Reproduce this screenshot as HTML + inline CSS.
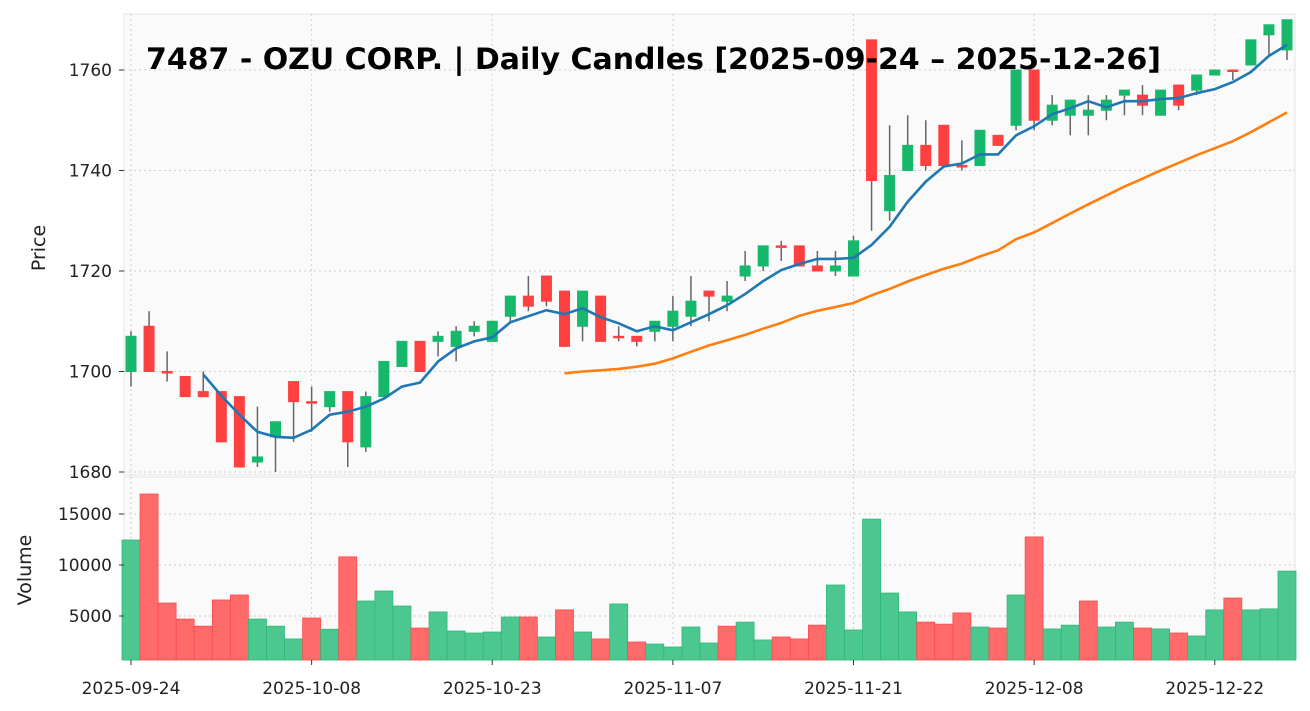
<!DOCTYPE html>
<html><head><meta charset="utf-8"><style>
body{margin:0;background:#fff;}
svg{display:block;font-family:"DejaVu Sans","Liberation Sans",sans-serif;}
</style></head><body>
<svg id="chart" width="1310" height="711" viewBox="0 0 1310 711" xmlns="http://www.w3.org/2000/svg">
<rect x="0" y="0" width="1310" height="711" fill="#fff"/>
<rect x="124" y="14" width="1171" height="461" fill="#fafafa" stroke="#e6e6e6"/>
<rect x="124" y="477" width="1171" height="183" fill="#fafafa" stroke="#e6e6e6"/>
<g id="grid"></g><g id="vol"></g><g id="candles"></g><g id="lines"></g><g id="axes"></g>
<text x="146" y="69" font-size="29" font-weight="bold" fill="#000" textLength="1015" lengthAdjust="spacingAndGlyphs">7487 - OZU CORP. | Daily Candles [2025-09-24 – 2025-12-26]</text>
<text transform="translate(45,248) rotate(-90)" text-anchor="middle" font-size="19" fill="#222">Price</text>
<text transform="translate(31,570) rotate(-90)" text-anchor="middle" font-size="19" fill="#222">Volume</text>
</svg>
<script>
const opens=[1700,1709,1700,1699,1696,1696,1695,1682,1687,1698,1694,1693,1696,1685,1695,1701,1706,1706,1705,1708,1706,1711,1715,1719,1716,1709,1715,1707,1707,1708,1709,1711,1716,1714,1719,1721,1725,1725,1721,1720,1719,1766,1732,1740,1745,1749,1741,1741,1747,1749,1760,1750,1751,1751,1752,1755,1755,1751,1757,1756,1759,1760,1761,1767,1764];
const closes=[1707,1700,1700,1695,1695,1686,1681,1683,1690,1694,1694,1696,1686,1695,1702,1706,1700,1707,1708,1709,1710,1715,1713,1714,1705,1716,1706,1707,1706,1710,1712,1714,1715,1715,1721,1725,1725,1721,1720,1721,1726,1738,1739,1745,1741,1741,1741,1748,1745,1760,1750,1753,1754,1752,1754,1756,1753,1756,1753,1759,1760,1760,1766,1769,1770];
const highs=[1708,1712,1704,1699,1700,1696,1695,1693,1690,1698,1697,1696,1696,1696,1702,1706,1706,1708,1709,1710,1710,1715,1719,1719,1716,1716,1715,1709,1707,1710,1715,1719,1716,1718,1724,1725,1726,1725,1724,1724,1727,1766,1749,1751,1750,1749,1746,1748,1747,1760,1760,1755,1754,1755,1755,1756,1757,1756,1757,1759,1760,1760,1766,1769,1770];
const lows=[1697,1700,1698,1695,1695,1686,1681,1681,1680,1686,1688,1692,1681,1684,1695,1701,1700,1703,1702,1707,1706,1710,1712,1713,1705,1706,1706,1706,1705,1706,1706,1709,1710,1712,1718,1720,1722,1721,1720,1719,1719,1728,1730,1740,1740,1741,1740,1741,1745,1748,1748,1749,1747,1747,1750,1751,1751,1751,1752,1755,1759,1758,1761,1763,1762];
const volumes=[12450,16960,6270,4700,4000,6570,7060,4700,4000,2750,4800,3700,10800,6470,7450,5980,3820,5400,3530,3330,3430,4900,4900,2940,5600,3430,2750,6180,2450,2250,1960,3920,2350,4000,4400,2650,2940,2750,4100,8040,3630,14500,7250,5400,4400,4200,5300,3920,3820,7060,12750,3730,4100,6470,3920,4400,3820,3730,3330,3040,5600,6760,5600,5700,9400];
const dateLabels=["2025-09-24","2025-10-08","2025-10-23","2025-11-07","2025-11-21","2025-12-08","2025-12-22"];
const dateIdx=[0,10,20,30,40,50,60];
const priceTicks=[1680,1700,1720,1740,1760];
const volTicks=[5000,10000,15000];

const NS="http://www.w3.org/2000/svg";
const n=closes.length;
const step=(1287-131)/64;
const X=i=>131+i*step;
const Y=p=>70+(1760-p)*5.025;
const VY=v=>667-v*102/10000;
function mk(parent,tag,attrs){const e=document.createElementNS(NS,tag);for(const k in attrs)e.setAttribute(k,attrs[k]);document.getElementById(parent).appendChild(e);return e;}
const G="#16b86b",R="#ff4040";
priceTicks.forEach(t=>{const l=mk('grid','line',{x1:124,x2:1295,y1:Y(t),y2:Y(t),stroke:'#cfcfcf','stroke-dasharray':'2,3'});
 const tx=mk('axes','text',{x:112,y:Y(t)+6,'text-anchor':'end','font-size':17,fill:'#222'});tx.textContent=t;
 mk('axes','line',{x1:119,x2:124,y1:Y(t),y2:Y(t),stroke:'#333'});});
volTicks.forEach(t=>{const l=mk('grid','line',{x1:124,x2:1295,y1:VY(t),y2:VY(t),stroke:'#cfcfcf','stroke-dasharray':'2,3'});
 const tx=mk('axes','text',{x:112,y:VY(t)+6,'text-anchor':'end','font-size':17,fill:'#222'});tx.textContent=t;
 mk('axes','line',{x1:119,x2:124,y1:VY(t),y2:VY(t),stroke:'#333'});});
dateIdx.forEach((d,k)=>{const x=X(d);
 const l1=mk('grid','line',{x1:x,x2:x,y1:14,y2:475,stroke:'#cfcfcf','stroke-dasharray':'2,3'});
 mk('grid','line',{x1:x,x2:x,y1:477,y2:660,stroke:'#cfcfcf','stroke-dasharray':'2,3'});
 mk('axes','line',{x1:x,x2:x,y1:660,y2:665,stroke:'#333'});
 const tx=mk('axes','text',{x:x,y:694,'text-anchor':'middle','font-size':17,fill:'#222'});tx.textContent=dateLabels[k];});
for(let i=0;i<n;i++){const up=closes[i]>opens[i];const c=up?G:R;const x=X(i);
 const vup=i===0?true:closes[i]>closes[i-1];
 const vb=mk('vol','rect',{x:x-9,y:VY(volumes[i]),width:18,height:660-VY(volumes[i]),fill:vup?'#4cc790':'#ff6b6b',stroke:vup?'#2fb87a':'#ff4a4a','stroke-width':0.8});
 
 const w=mk('candles','line',{x1:x,x2:x,y1:Y(highs[i]),y2:Y(lows[i]),stroke:'#666','stroke-width':1.5});
 
 const top=Y(Math.max(opens[i],closes[i]));const h=Math.max(1.5,Math.abs(Y(opens[i])-Y(closes[i])));
 const b=mk('candles','rect',{x:x-5,y:top,width:10,height:h,fill:c,stroke:c});
 }
function ma(p){const out=[];for(let i=p-1;i<n;i++){let s=0;for(let j=i-p+1;j<=i;j++)s+=closes[j];out.push([i,s/p]);}return out;}
[[5,'#1f77b4','ma5-line'],[25,'#ff7f0e','ma25-line']].forEach(([p,col,nm])=>{
 const d=ma(p).map((q,k)=>(k?'L':'M')+X(q[0]).toFixed(1)+','+Y(q[1]).toFixed(1)).join(' ');
 const l=mk('lines','path',{d:d,fill:'none',stroke:col,'stroke-width':2.6});
 });
</script>
</body></html>
